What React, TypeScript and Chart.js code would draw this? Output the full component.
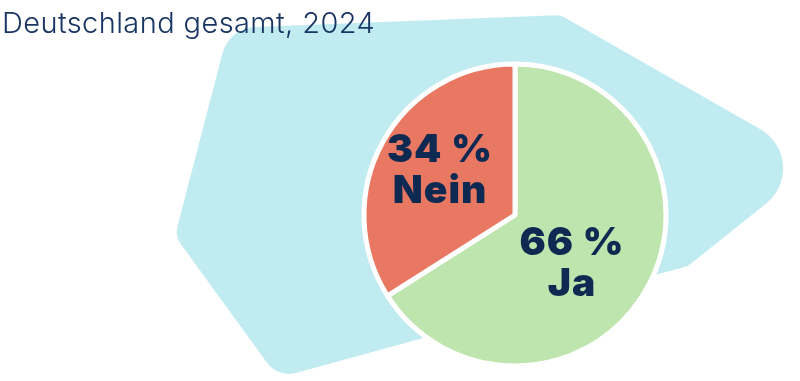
import React, { useEffect, useRef } from "react";
import { Chart, registerables } from "chart.js";

Chart.register(...registerables);

// ---- data ----
const categories = ["Ja", "Nein"];
const values = [66, 34];
const valueLabels = ["66 %", "34 %"];
const titleText = "Deutschland gesamt, 2024";

// ---- styles ----
const sliceColors = ["#bee5ad", "#e97862"];
const navy = "#0f2a52";
const titleColor = "#183563";
const blobColor = "#c0ebf0";

// decorative background shape (canvas px), with corner radii
const blobShape = [
  { x: 229, y: 28, r: 35 },
  { x: 560, y: 15, r: 15 },
  { x: 818, y: 162, r: 45 },
  { x: 688, y: 266, r: 12 },
  { x: 580, y: 295, r: 0 },
  { x: 278, y: 378, r: 28 },
  { x: 175, y: 236, r: 20 },
];

// label anchor offsets from pie centre (baseline of first line)
const labelOffsets = [
  { dx: 57, dy: 40 },
  { dx: -75, dy: -53 },
];

const decorPlugin = {
  id: "decor",
  beforeDraw(chart: any) {
    const ctx = chart.ctx;
    const pts = blobShape;
    const n = pts.length;
    ctx.save();
    ctx.beginPath();
    const m0x = (pts[n - 1].x + pts[0].x) / 2;
    const m0y = (pts[n - 1].y + pts[0].y) / 2;
    ctx.moveTo(m0x, m0y);
    for (let i = 0; i < n; i++) {
      const p1 = pts[i];
      const p2 = pts[(i + 1) % n];
      const mx = (p1.x + p2.x) / 2;
      const my = (p1.y + p2.y) / 2;
      if (p1.r > 0) ctx.arcTo(p1.x, p1.y, mx, my, p1.r);
      else ctx.lineTo(p1.x, p1.y);
    }
    ctx.closePath();
    ctx.fillStyle = blobColor;
    ctx.fill();

    ctx.fillStyle = titleColor;
    ctx.font = "350 29px Inter, 'Open Sans', sans-serif";
    ctx.textAlign = "left";
    ctx.textBaseline = "alphabetic";
    try { (ctx as any).letterSpacing = "0.4px"; } catch (e) {}
    ctx.fillText(titleText, 2, 33);
    ctx.restore();
  },
  afterDatasetsDraw(chart: any) {
    const ctx = chart.ctx;
    const meta = chart.getDatasetMeta(0);
    ctx.save();
    ctx.fillStyle = navy;
    ctx.font = "900 39px Inter, 'Open Sans', sans-serif";
    ctx.textAlign = "center";
    ctx.textBaseline = "alphabetic";
    try { (ctx as any).letterSpacing = "1px"; } catch (e) {}
    meta.data.forEach((arc: any, i: number) => {
      const off = labelOffsets[i];
      const x = arc.x + off.dx;
      const y = arc.y + off.dy;
      ctx.fillText(valueLabels[i], x, y);
      ctx.fillText(categories[i], x, y + 41);
    });
    ctx.restore();
  },
};

export default function App() {
  const ref = useRef<HTMLCanvasElement | null>(null);
  useEffect(() => {
    if (!ref.current) return;
    const chart = new Chart(ref.current, {
      type: "pie",
      data: {
        labels: categories,
        datasets: [
          {
            data: values,
            backgroundColor: sliceColors,
            borderColor: "#ffffff",
            borderWidth: 5,
            hoverOffset: 0,
            radius: 151,
          } as any,
        ],
      },
      options: {
        animation: false,
        responsive: true,
        maintainAspectRatio: false,
        layout: { padding: { left: 230, right: 0, top: 49, bottom: 0 } },
        plugins: {
          legend: { display: false },
          tooltip: { enabled: false },
          title: { display: false },
        },
      },
      plugins: [decorPlugin],
    });
    return () => chart.destroy();
  }, []);
  return (
    <div style={{ position: "absolute", left: 0, top: 0, width: 800, height: 381, background: "#fff" }}>
      <canvas ref={ref} />
    </div>
  );
}
